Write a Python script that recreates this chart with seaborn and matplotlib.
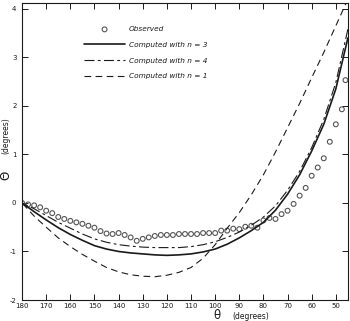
import matplotlib
matplotlib.use("Agg")
import matplotlib.pyplot as plt
import seaborn as sns
import pandas as pd

# ---- data ----
obs_theta = [180, 177.5, 175, 172.5, 170, 167.5, 165, 162.5, 160, 157.5, 155, 152.5, 150,
             147.5, 145, 142.5, 140, 137.5, 135, 132.5, 130, 127.5, 125, 122.5, 120,
             117.5, 115, 112.5, 110, 107.5, 105, 102.5, 100, 97.5, 95, 92.5, 90,
             87.5, 85, 82.5, 80, 77.5, 75, 72.5, 70, 67.5, 65, 62.5, 60, 57.5, 55,
             52.5, 50, 47.5, 46]
obs_val = [0, -0.03, -0.05, -0.09, -0.16, -0.21, -0.29, -0.33, -0.37, -0.40, -0.43, -0.47, -0.51,
           -0.58, -0.63, -0.64, -0.62, -0.66, -0.71, -0.78, -0.74, -0.71, -0.68, -0.66, -0.66,
           -0.66, -0.64, -0.64, -0.64, -0.64, -0.62, -0.62, -0.62, -0.57, -0.57, -0.53, -0.54,
           -0.49, -0.47, -0.51, -0.36, -0.31, -0.33, -0.23, -0.16, -0.02, 0.15, 0.31, 0.56, 0.73, 0.92,
           1.26, 1.62, 1.93, 2.53]

curve_theta = [180, 175, 170, 165, 160, 155, 150, 145, 140, 135, 130, 125, 120, 115, 110,
               105, 100, 95, 90, 85, 80, 75, 70, 65, 60, 55, 50, 45]
n3_val = [0, -0.18, -0.35, -0.51, -0.65, -0.77, -0.88, -0.95, -1.00, -1.03, -1.05, -1.07, -1.08,
          -1.07, -1.05, -1.01, -0.95, -0.85, -0.72, -0.57, -0.40, -0.15, 0.18, 0.58, 1.07, 1.62,
          2.35, 3.40]
n4_val = [0, -0.12, -0.26, -0.40, -0.52, -0.64, -0.74, -0.81, -0.86, -0.89, -0.91, -0.92, -0.92,
          -0.92, -0.90, -0.86, -0.80, -0.71, -0.60, -0.46, -0.29, -0.06, 0.26, 0.65, 1.14, 1.72,
          2.48, 3.58]
n1_val = [0, -0.27, -0.50, -0.72, -0.90, -1.06, -1.20, -1.33, -1.42, -1.48, -1.51, -1.52, -1.49,
          -1.43, -1.33, -1.14, -0.86, -0.52, -0.20, 0.17, 0.58, 1.05, 1.55, 2.05, 2.58, 3.10,
          3.65, 4.20]

x_ticks = [180, 170, 160, 150, 140, 130, 120, 110, 100, 90, 80, 70, 60, 50]
y_ticks = [-2, -1, 0, 1, 2, 3, 4]

labels = ["Observed", "Computed with n = 3", "Computed with n = 4", "Computed with n = 1"]

# ---- plot ----
sns.set_style("ticks")
plt.rcParams["font.family"] = ["DejaVu Sans"]

fig = plt.figure(figsize=(3.5, 3.21), dpi=100)
ax = fig.add_axes([0.063, 0.0654, 0.931, 0.9253])

ink = "#1a1a1a"
obs_df = pd.DataFrame({"theta": obs_theta, "val": obs_val})
cdf = pd.DataFrame({"theta": curve_theta, "n3": n3_val, "n4": n4_val, "n1": n1_val})

sns.scatterplot(data=obs_df, x="theta", y="val", ax=ax, marker="o", s=12,
                facecolor="none", edgecolor="#555555", linewidth=0.8, label=labels[0])
sns.lineplot(data=cdf, x="theta", y="n3", ax=ax, color=ink, lw=1.2, label=labels[1])
sns.lineplot(data=cdf, x="theta", y="n4", ax=ax, color=ink, lw=0.8, label=labels[2])
sns.lineplot(data=cdf, x="theta", y="n1", ax=ax, color=ink, lw=0.8, label=labels[3])
lines = ax.get_lines()
lines[1].set_dashes((9, 3, 2.5, 3))
lines[2].set_dashes((6, 4))

ax.set_xlim(180, 45)
ax.set_ylim(-2, 4.12)
ax.set_xticks(x_ticks)
ax.set_yticks(y_ticks)
ax.set_xticklabels([str(t) for t in x_ticks], fontsize=5, color=ink)
ax.set_yticklabels([str(t) for t in y_ticks], fontsize=5, color=ink)
ax.tick_params(direction="in", length=4, width=0.7, top=True, right=True, pad=2.5,
               colors=ink)
ax.tick_params(axis="y", pad=4)
for sp in ax.spines.values():
    sp.set_linewidth(0.8)
    sp.set_color(ink)
ax.set_xlabel("")
ax.set_ylabel("")

# axis labels
fig.text(0.62, 0.006, "θ", fontsize=8.5, ha="center", va="baseline", color=ink)
fig.text(0.665, 0.006, "(degrees)", fontsize=5.5, ha="left", va="baseline", color=ink)
fig.text(0.018, 0.455, "Θ", fontsize=8.5, rotation=90, ha="center", va="center", color=ink)
fig.text(0.018, 0.576, "(degrees)", fontsize=5.5, rotation=90, ha="center", va="center", color=ink)

leg = ax.legend(loc="upper left", bbox_to_anchor=(0.19, 0.922), frameon=False,
                prop={"size": 5.3, "style": "italic"}, handlelength=5.6,
                handletextpad=0.5, labelspacing=1.3, borderpad=0, borderaxespad=0,
                markerscale=1.0)
for t in leg.get_texts():
    t.set_color(ink)

fig.savefig("out.png", dpi=100)
